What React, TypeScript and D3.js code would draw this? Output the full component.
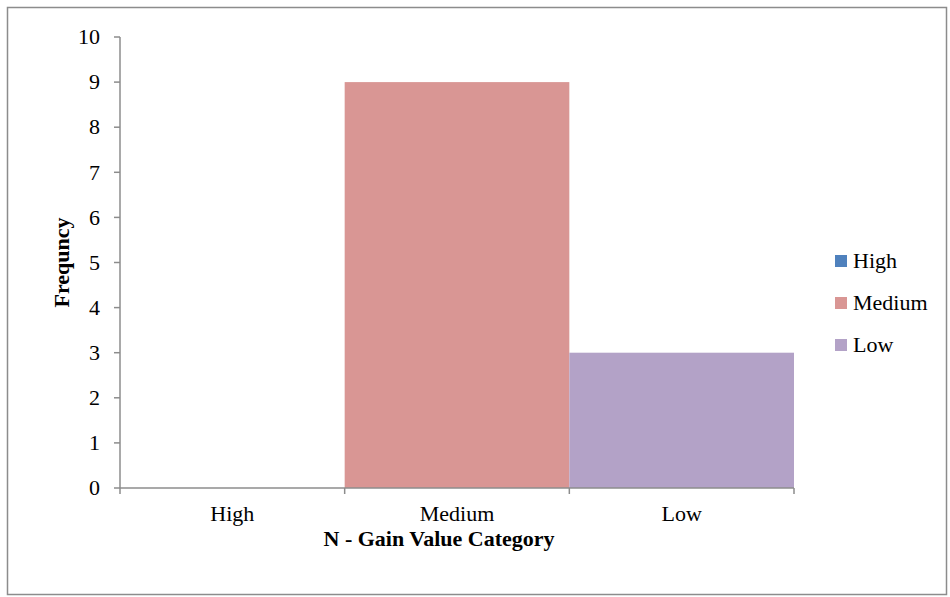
import React from "react";
import * as d3 from "d3";

const categories = ["High", "Medium", "Low"];
const values = [0, 9, 3];
const colors = ["#4F81BD", "#D99694", "#B3A2C7"];
const yTicks = [0, 1, 2, 3, 4, 5, 6, 7, 8, 9, 10];

export default function App() {
  const W = 950, H = 597;
  const left = 120, right = 794, top = 37, bottom = 488;
  const x = d3.scaleBand().domain(categories).range([left, right]).paddingInner(0).paddingOuter(0);
  const y = d3.scaleLinear().domain([0, 10]).range([bottom, top]);
  const axisColor = "#8c8c8c";
  const fs = 22;
  return (
    <svg width={W} height={H} style={{ position: "absolute", left: 0, top: 0 }}>
      <rect x={0} y={0} width={W} height={H} fill="#fff" />
      <rect x={7.5} y={7.5} width={939} height={587} fill="#fff" stroke="#8c8c8c" strokeWidth={1.5} />
      {categories.map((c, i) => (
        <rect key={c} x={x(c)} y={y(values[i])} width={x.bandwidth()} height={bottom - y(values[i])} fill={colors[i]} />
      ))}
      <line x1={left} x2={left} y1={top} y2={bottom} stroke={axisColor} strokeWidth={1.5} />
      <line x1={left} x2={right} y1={bottom} y2={bottom} stroke={axisColor} strokeWidth={1.5} />
      {yTicks.map((t) => (
        <g key={t}>
          <line x1={left - 6} x2={left} y1={y(t)} y2={y(t)} stroke={axisColor} strokeWidth={1.5} />
          <text x={left - 20} y={y(t)} dy="0.33em" textAnchor="end" fontSize={fs}>{t}</text>
        </g>
      ))}
      {[left, ...categories.map((c) => x(c)! + x.bandwidth())].map((px, i) => (
        <line key={i} x1={px} x2={px} y1={bottom} y2={bottom + 6} stroke={axisColor} strokeWidth={1.5} />
      ))}
      {categories.map((c) => (
        <text key={c} x={x(c)! + x.bandwidth() / 2} y={521} textAnchor="middle" fontSize={fs}>{c}</text>
      ))}
      <text x={(left + right) / 2 - 18} y={546} textAnchor="middle" fontWeight="bold" fontSize={fs}>N - Gain Value Category</text>
      <text transform={`translate(69, ${(top + bottom) / 2}) rotate(-90)`} textAnchor="middle" fontWeight="bold" fontSize={fs}>Frequncy</text>
      {categories.map((c, i) => (
        <g key={c} transform={`translate(835, ${261 + i * 42})`}>
          <rect x={0} y={-6} width={12} height={12} fill={colors[i]} />
          <text x={18} y={0} dy="0.33em" fontSize={fs}>{c}</text>
        </g>
      ))}
    </svg>
  );
}
